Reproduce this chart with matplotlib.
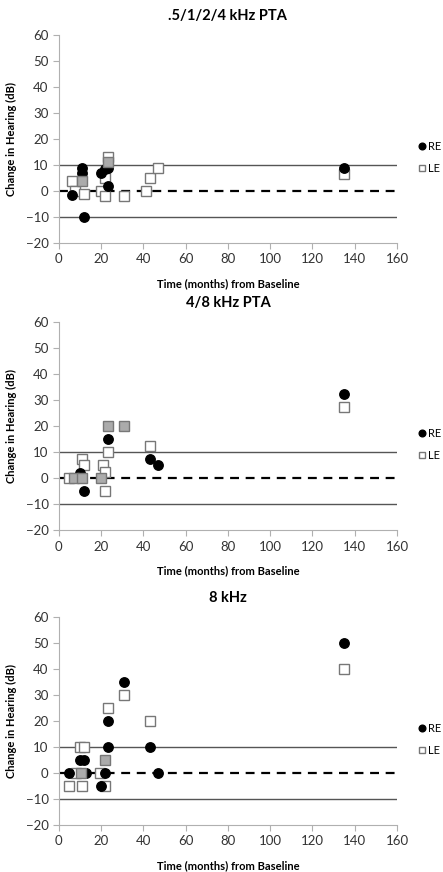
import matplotlib
matplotlib.use('Agg')
import matplotlib.pyplot as plt
from matplotlib.lines import Line2D

plt.rcParams['font.family'] = ['Lato', 'DejaVu Sans']

titles = ['.5/1/2/4 kHz PTA', '4/8 kHz PTA', '8 kHz']
x_ticks = [0, 20, 40, 60, 80, 100, 120, 140, 160]
y_ticks = [-20, -10, 0, 10, 20, 30, 40, 50, 60]

# (months, dB change)
re_pta = [(6, -1.5), (11, 9), (11, 7), (12, -10), (20, 7), (22, 8.5), (23, 9), (23, 2), (135, 9)]
le_pta = [(6, 4), (7.5, 0), (12, -1), (23, 13), (22, 5), (20, 0), (22, -2), (31, -2),
          (41, 0), (43, 5), (47, 9), (135, 6.5)]
both_pta = [(11, 4), (23, 11)]

re_48 = [(10, 2), (12, -5), (23, 15), (43, 7.5), (47, 5), (135, 32.5)]
le_48 = [(5, 0), (11, 7.5), (12, 5), (21, 5), (22, 2.5), (22, -5), (23, 10), (43, 12.5), (135, 27.5)]
both_48 = [(7, 0), (11, 0), (20, 0), (23, 20), (31, 20)]

re_8 = [(5, 0), (13, 0), (22, 0), (47, 0), (10, 5), (12, 5), (23, 10), (43, 10), (20, -5),
        (23, 20), (31, 35), (135, 50)]
le_8 = [(8, 0), (19.5, 0), (10, 10), (12, 10), (5, -5), (11, -5), (22, -5), (23, 25),
        (31, 30), (43, 20), (135, 40)]
both_8 = [(10.5, 0), (22, 5)]

panels = [(re_pta, le_pta, both_pta), (re_48, le_48, both_48), (re_8, le_8, both_8)]
bottoms = [0.7213, 0.392, 0.0539]

fig = plt.figure(figsize=(4.43, 8.72), dpi=100)

for title, (re, le, both), b in zip(titles, panels, bottoms):
    ax = fig.add_axes([0.133, b, 0.763, 0.2385])
    ax.set_xlim(0, 160)
    ax.set_ylim(-20, 60)
    ax.set_xticks(x_ticks)
    ax.set_yticks(y_ticks)
    for s in ['top', 'right']:
        ax.spines[s].set_visible(False)
    for s in ['left', 'bottom']:
        ax.spines[s].set_color('#b0b0b0')
    ax.tick_params(colors='#b0b0b0', labelcolor='#333333', labelsize=9.5, length=4)

    ax.axhline(10, color='#555555', lw=1, zorder=1)
    ax.axhline(-10, color='#555555', lw=1, zorder=1)
    ax.axhline(0, color='black', lw=1.6, ls=(0, (4, 3)), zorder=1)

    ax.plot([p[0] for p in le], [p[1] for p in le], 's', ms=6.5, mfc='white',
            mec='#777777', mew=1, zorder=3, clip_on=False)
    ax.plot([p[0] for p in re], [p[1] for p in re], 'o', ms=6.8, mfc='black',
            mec='black', zorder=4, clip_on=False)
    ax.plot([p[0] for p in both], [p[1] for p in both], 's', ms=6.5, mfc='#ababab',
            mec='#777777', mew=1, zorder=5, clip_on=False)

    ax.set_title(title, fontsize=10.5, fontweight='bold', pad=11)
    ax.set_xlabel('Time (months) from Baseline', fontsize=8, fontweight='bold')
    ax.set_ylabel('Change in Hearing (dB)', fontsize=8, fontweight='bold')
    ax.xaxis.set_label_coords(0.5, -0.17)
    ax.yaxis.set_label_coords(-0.125, 0.5)

    handles = [Line2D([], [], marker='o', ls='', ms=4.8, mfc='black', mec='black'),
               Line2D([], [], marker='s', ls='', ms=4.8, mfc='white', mec='#777777')]
    ax.legend(handles, ['RE', 'LE'], loc='center left', bbox_to_anchor=(1.065, 0.413),
              frameon=False, fontsize=8, handlelength=0.6, handletextpad=0.2,
              labelspacing=1.0, borderaxespad=0, borderpad=0)

fig.savefig('out.png', dpi=100)
